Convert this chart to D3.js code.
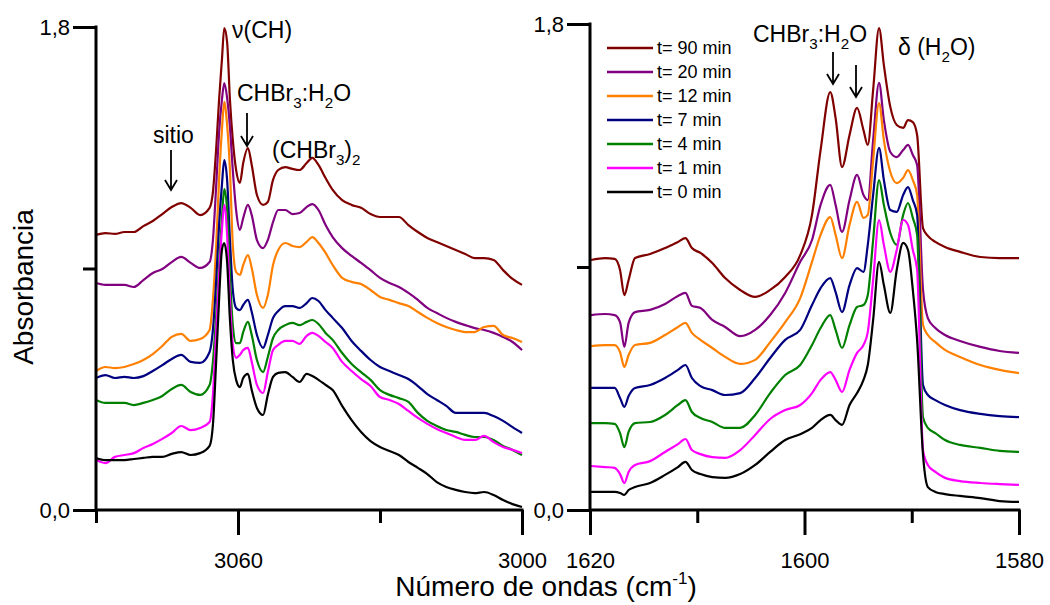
<!DOCTYPE html>
<html><head><meta charset="utf-8">
<script src="https://cdn.jsdelivr.net/npm/d3@7"></script>
<style>
body{margin:0;background:#fff}
svg{display:block;font-family:"Liberation Sans",Arial,sans-serif;background:#fff}
</style>
</head><body>
<svg id="chart" width="1050" height="605"></svg>
<script>
// ---------- DATA ----------
const seriesNames = ["t= 90 min","t= 20 min","t= 12 min","t= 7 min","t= 4 min","t= 1 min","t= 0 min"];
const seriesColors = ["#800000","#800080","#ff8000","#000080","#008000","#ff00ff","#000000"];

// left panel: wavenumbers (cm-1)
const wnLeft = [3090,3088,3086,3084,3082,3080,3078,3076,3074,3072,
  3070,3068,3066,3065.3,3064.6,3064,3063.4,3062.9,3062.3,3061.7,
  3061.1,3060.4,3059.6,3058.9,3057.9,3057.1,3056,3054.7,3053.7,3052.6,
  3051.5,3050,3048.5,3047,3045.5,3044.3,3043,3041.5,3040,3038,
  3036,3034,3032,3030,3028,3026,3024,3022,3020,3018,
  3016,3014,3012,3010,3008,3006,3004,3002,3000];
const leftT90 = [1.025,1.032,1.029,1.036,1.036,1.058,1.077,1.103,1.129,1.144,
  1.126,1.099,1.126,1.185,1.349,1.528,1.677,1.796,1.744,1.528,
  1.379,1.267,1.219,1.293,1.349,1.286,1.174,1.137,1.148,1.230,
  1.267,1.278,1.271,1.267,1.293,1.312,1.286,1.237,1.193,1.155,
  1.137,1.126,1.103,1.092,1.092,1.092,1.062,1.036,1.014,0.999,
  0.984,0.969,0.954,0.939,0.939,0.932,0.894,0.861,0.839];
const leftT20 = [0.846,0.839,0.839,0.839,0.831,0.857,0.883,0.898,0.924,0.943,
  0.921,0.902,0.924,1.006,1.211,1.405,1.528,1.591,1.536,1.427,
  1.267,1.118,1.044,1.088,1.137,1.099,1.006,0.976,1.006,1.073,
  1.118,1.118,1.103,1.107,1.129,1.140,1.118,1.062,1.017,0.976,
  0.947,0.921,0.894,0.865,0.846,0.831,0.809,0.783,0.753,0.734,
  0.716,0.701,0.689,0.678,0.671,0.660,0.645,0.626,0.596];
const leftT12 = [0.518,0.533,0.529,0.533,0.544,0.559,0.581,0.611,0.645,0.656,
  0.630,0.637,0.671,0.783,0.988,1.230,1.416,1.521,1.435,1.267,
  0.988,0.887,0.876,0.913,0.950,0.902,0.801,0.753,0.801,0.913,
  0.969,0.995,0.984,0.980,0.999,1.017,0.995,0.958,0.913,0.865,
  0.850,0.842,0.820,0.794,0.783,0.771,0.760,0.738,0.716,0.697,
  0.682,0.671,0.663,0.663,0.682,0.686,0.652,0.641,0.626];
const leftT7 = [0.492,0.503,0.492,0.496,0.492,0.499,0.518,0.540,0.563,0.578,
  0.552,0.548,0.589,0.671,0.857,1.062,1.211,1.304,1.230,1.006,
  0.820,0.753,0.745,0.764,0.783,0.738,0.652,0.604,0.652,0.716,
  0.742,0.760,0.760,0.753,0.771,0.790,0.779,0.745,0.716,0.678,
  0.630,0.593,0.559,0.533,0.518,0.503,0.488,0.462,0.432,0.410,
  0.388,0.362,0.362,0.362,0.362,0.350,0.332,0.309,0.287];
const leftT4 = [0.410,0.399,0.399,0.399,0.391,0.399,0.410,0.425,0.451,0.466,
  0.440,0.429,0.466,0.552,0.727,0.913,1.088,1.196,1.118,0.876,
  0.689,0.622,0.622,0.663,0.701,0.652,0.559,0.514,0.570,0.641,
  0.671,0.689,0.697,0.689,0.701,0.708,0.693,0.660,0.634,0.585,
  0.544,0.514,0.485,0.447,0.429,0.417,0.403,0.362,0.332,0.313,
  0.298,0.291,0.280,0.272,0.272,0.261,0.239,0.224,0.205];
const leftT1 = [0.186,0.175,0.198,0.205,0.212,0.231,0.246,0.265,0.287,0.313,
  0.298,0.306,0.328,0.429,0.671,0.876,1.044,1.137,1.025,0.783,
  0.615,0.567,0.578,0.596,0.604,0.552,0.466,0.436,0.514,0.596,
  0.615,0.630,0.630,0.619,0.649,0.660,0.649,0.626,0.604,0.552,
  0.518,0.488,0.462,0.421,0.410,0.395,0.369,0.343,0.321,0.302,
  0.287,0.272,0.261,0.261,0.276,0.253,0.235,0.224,0.212];
const leftT0 = [0.194,0.186,0.186,0.186,0.190,0.194,0.198,0.198,0.209,0.216,
  0.205,0.212,0.239,0.317,0.559,0.783,0.969,0.995,0.924,0.708,
  0.559,0.485,0.458,0.492,0.507,0.447,0.380,0.354,0.429,0.496,
  0.511,0.514,0.496,0.477,0.507,0.499,0.485,0.466,0.447,0.388,
  0.335,0.291,0.257,0.235,0.220,0.205,0.179,0.157,0.134,0.104,
  0.086,0.075,0.067,0.063,0.067,0.056,0.037,0.022,0.011];

// right panel: wavenumbers (cm-1)
const wnRight = [1619.9,1618.6,1617.7,1617.2,1616.8,1616.4,1615.8,1614.4,1613.0,1611.8,
  1611.1,1610.5,1609.7,1608.6,1607.4,1606.0,1604.6,1603.2,1601.8,1600.4,
  1599.3,1598.5,1597.6,1597.1,1596.5,1595.8,1595.1,1594.5,1594.1,1593.6,
  1593.05,1592.6,1592.0,1591.4,1590.8,1590.35,1589.9,1589.5,1588.95,1588.5,
  1587.8,1586.9,1585.5,1583.6,1581.8,1580.0];
const rightT90 = [0.926,0.933,0.930,0.889,0.796,0.852,0.933,0.948,0.970,0.993,
  1.007,0.970,0.952,0.915,0.859,0.815,0.789,0.815,0.863,0.944,
  1.093,1.333,1.548,1.452,1.270,1.389,1.489,1.407,1.352,1.556,
  1.785,1.648,1.493,1.426,1.415,1.444,1.437,1.389,1.044,1.015,
  0.993,0.974,0.956,0.937,0.933,0.933];
const rightT20 = [0.722,0.726,0.722,0.696,0.604,0.693,0.733,0.741,0.763,0.793,
  0.804,0.756,0.748,0.704,0.678,0.644,0.667,0.722,0.804,0.919,
  1.000,1.130,1.204,1.130,1.030,1.148,1.241,1.167,1.148,1.370,
  1.582,1.444,1.326,1.307,1.333,1.352,1.315,1.278,0.815,0.711,
  0.674,0.648,0.626,0.604,0.589,0.582];
const rightT12 = [0.607,0.611,0.611,0.585,0.530,0.574,0.611,0.619,0.648,0.678,
  0.693,0.656,0.630,0.600,0.567,0.541,0.556,0.622,0.696,0.785,
  0.919,1.019,1.085,1.019,0.933,1.056,1.141,1.082,1.093,1.296,
  1.507,1.370,1.252,1.211,1.230,1.259,1.222,1.167,0.685,0.648,
  0.622,0.593,0.567,0.537,0.519,0.507];
const rightT7 = [0.452,0.452,0.452,0.415,0.382,0.422,0.452,0.463,0.489,0.519,
  0.537,0.489,0.459,0.444,0.426,0.433,0.489,0.563,0.630,0.667,
  0.759,0.822,0.859,0.807,0.733,0.833,0.896,0.882,0.982,1.167,
  1.341,1.222,1.111,1.104,1.167,1.196,1.148,1.093,0.463,0.426,
  0.407,0.389,0.370,0.356,0.348,0.344];
const rightT4 = [0.322,0.322,0.319,0.285,0.233,0.289,0.322,0.326,0.352,0.389,
  0.407,0.363,0.341,0.326,0.304,0.304,0.352,0.433,0.500,0.537,
  0.611,0.674,0.722,0.667,0.600,0.685,0.752,0.759,0.796,1.000,
  1.222,1.130,1.026,0.982,1.093,1.137,1.082,1.019,0.344,0.304,
  0.285,0.259,0.241,0.230,0.219,0.215];
const rightT1 = [0.163,0.159,0.156,0.133,0.100,0.141,0.167,0.181,0.215,0.244,
  0.263,0.222,0.207,0.196,0.193,0.222,0.278,0.337,0.370,0.389,
  0.433,0.482,0.511,0.482,0.437,0.519,0.582,0.611,0.659,0.852,
  1.074,0.982,0.882,0.963,1.074,1.056,0.963,0.889,0.222,0.167,
  0.141,0.119,0.107,0.100,0.096,0.093];
const rightT0 = [0.067,0.067,0.067,0.063,0.056,0.074,0.085,0.100,0.130,0.159,
  0.178,0.148,0.133,0.122,0.119,0.133,0.167,0.215,0.259,0.281,
  0.304,0.333,0.352,0.333,0.315,0.389,0.433,0.482,0.537,0.704,
  0.919,0.833,0.730,0.889,0.989,0.963,0.815,0.630,0.204,0.085,
  0.067,0.059,0.052,0.044,0.033,0.030];

const yTickValues = [0, 1.8];
const yMinorValues = [0.9];
const xLeftMajor = [3060, 3000];
const xLeftMinor = [3090, 3030];
const xRightMajor = [1620, 1600, 1580];
const xRightMinor = [1610, 1590];

const leftSeries = [leftT90, leftT20, leftT12, leftT7, leftT4, leftT1, leftT0];
const rightSeries = [rightT90, rightT20, rightT12, rightT7, rightT4, rightT1, rightT0];

// ---------- DRAW ----------
const svg = d3.select("#chart");
const xL = d3.scaleLinear().domain([3090, 3000]).range([96, 522]);
const yL = d3.scaleLinear().domain([0, 1.8]).range([510, 27]);
const xR = d3.scaleLinear().domain([1620, 1580]).range([590, 1019]);
const yR = d3.scaleLinear().domain([0, 1.8]).range([510, 24]);

const fmt = d => d.toFixed(1).replace(".", ",");

function drawPanel(x, y, wn, series, xMajor, xMinor) {
  const g = svg.append("g");
  const line = d3.line().x((d, i) => x(wn[i])).y(d => y(d)).curve(d3.curveMonotoneX);
  series.forEach((s, k) => {
    g.append("path").attr("d", line(s)).attr("fill", "none")
      .attr("stroke", seriesColors[k]).attr("stroke-width", 2.2)
      .attr("stroke-linejoin", "round");
  });
  const x0 = x.range()[0];
  // y axis
  const ya = g.append("g").attr("transform", `translate(${x0},0)`);
  ya.call(d3.axisLeft(y).tickValues(yTickValues).tickSize(23).tickPadding(3).tickFormat(fmt));
  ya.append("g").call(d3.axisLeft(y).tickValues(yMinorValues).tickSize(13).tickFormat(""));
  ya.selectAll(".domain").remove();
  ya.append("line").attr("x1", 0).attr("x2", 0).attr("y1", y(1.8) - 1.5).attr("y2", y(0))
    .attr("stroke", "#000").attr("stroke-width", 3);
  // x axis
  const xa = g.append("g").attr("transform", `translate(0,${y(0)})`);
  xa.call(d3.axisBottom(x).tickValues(xMajor).tickSize(25).tickPadding(17).tickFormat(d3.format("d")));
  xa.append("g").call(d3.axisBottom(x).tickValues(xMinor).tickSize(13).tickFormat(""));
  xa.selectAll(".domain").remove();
  xa.append("line").attr("x1", x.range()[0]).attr("x2", x.range()[1] + 1.5).attr("y1", 0).attr("y2", 0)
    .attr("stroke", "#000").attr("stroke-width", 3);
  g.selectAll(".tick line").attr("stroke", "#000").attr("stroke-width", 3);
  g.selectAll(".tick text").attr("font-size", 22).attr("fill", "#000")
    .attr("font-family", '"Liberation Sans",Arial,sans-serif');
}

drawPanel(xL, yL, wnLeft, leftSeries, xLeftMajor, xLeftMinor);
drawPanel(xR, yR, wnRight, rightSeries, xRightMajor, xRightMinor);

// axis titles
svg.append("text").attr("transform", "translate(33,287) rotate(-90)")
  .attr("text-anchor", "middle").attr("font-size", 28).text("Absorbancia");
const xt = svg.append("text").attr("x", 546).attr("y", 596).attr("text-anchor", "middle").attr("font-size", 28);
xt.append("tspan").text("Número de ondas (cm");
xt.append("tspan").attr("font-size", 17).attr("dy", -12).text("-1");
xt.append("tspan").attr("dy", 12).text(")");

// rich text helper: parts = [text, isSub]
function rich(x, y, parts, size) {
  const t = svg.append("text").attr("x", x).attr("y", y).attr("font-size", size);
  let sub = false;
  parts.forEach(([s, isSub]) => {
    const sp = t.append("tspan").text(s);
    if (isSub && !sub) { sp.attr("dy", 7).attr("font-size", size * 0.66); sub = true; }
    else if (isSub) { sp.attr("font-size", size * 0.66); }
    else if (sub) { sp.attr("dy", -7); sub = false; }
  });
  return t;
}
function arrow(x, y1, y2) {
  svg.append("path")
    .attr("d", `M${x},${y1}V${y2}M${x - 6},${y2 - 10}L${x},${y2}L${x + 6},${y2 - 10}`)
    .attr("fill", "none").attr("stroke", "#000").attr("stroke-width", 1.8);
}

rich(232, 38, [["ν(CH)", false]], 23);
rich(237, 101, [["CHBr", false], ["3", true], [":H", false], ["2", true], ["O", false]], 23);
arrow(247, 113, 146);
rich(153, 143, [["sitio", false]], 23);
arrow(171, 150, 190);
rich(272, 158, [["(CHBr", false], ["3", true], [")", false], ["2", true]], 23);

rich(753, 42, [["CHBr", false], ["3", true], [":H", false], ["2", true], ["O", false]], 23);
arrow(833, 52, 84);
arrow(856, 65, 97);
rich(898, 55, [["δ (H", false], ["2", true], ["O)", false]], 23);

// legend
const lg = svg.append("g");
seriesNames.forEach((n, k) => {
  const yy = 48 + k * 24;
  lg.append("line").attr("x1", 607).attr("x2", 653).attr("y1", yy).attr("y2", yy)
    .attr("stroke", seriesColors[k]).attr("stroke-width", 2.5);
  lg.append("text").attr("x", 657).attr("y", yy).attr("dy", "0.35em").attr("font-size", 18).text(n);
});
</script>
</body></html>
